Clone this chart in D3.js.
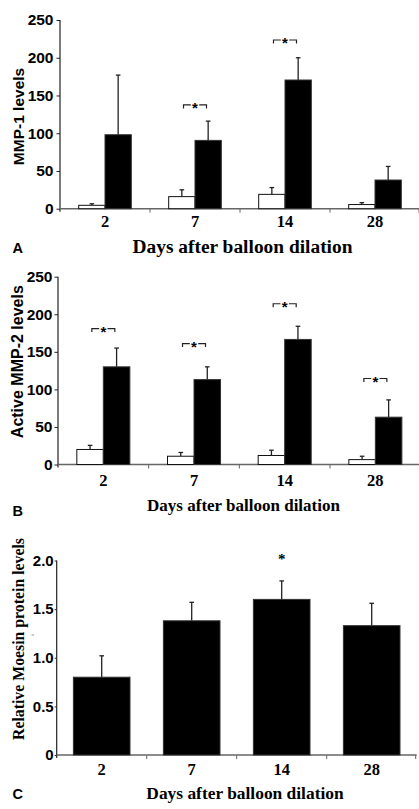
<!DOCTYPE html>
<html>
<head>
<meta charset="utf-8">
<script src="https://cdn.jsdelivr.net/npm/d3@7"></script>
<style>
  html, body { margin: 0; padding: 0; background: #fff; }
  svg { display: block; }
</style>
</head>
<body>
<svg id="fig" width="419" height="809"></svg>
<script>
// Days after balloon dilation (x categories)
const days = ["2", "7", "14", "28"];

// Panel A: MMP-1 levels (control = open bars, dilated = filled bars)
const mmp1Control    = [4.5, 16, 19, 5.5];
const mmp1ControlSD  = [2, 9, 9, 2.5];
const mmp1Dilated    = [98, 90.5, 170.5, 38];
const mmp1DilatedSD  = [79, 25.5, 29.5, 18];
const mmp1Signif     = [null, 137.5, 223.5, null];

// Panel B: active MMP-2 levels
const mmp2Control    = [20, 11, 12, 6.5];
const mmp2ControlSD  = [5.5, 5, 7, 4.5];
const mmp2Dilated    = [130, 113, 166.5, 63];
const mmp2DilatedSD  = [25, 17, 17.5, 23];
const mmp2Signif     = [181, 161, 214, 114.5];

// Panel C: relative moesin protein levels
const moesin         = [0.80, 1.38, 1.60, 1.33];
const moesinSD       = [0.22, 0.19, 0.19, 0.23];
const moesinSignif   = [null, null, 2.03, null];

// Tick labels
const countTicks      = [0, 50, 100, 150, 200, 250];
const countTickLabels = ["0", "50", "100", "150", "200", "250"];
const ratioTicks      = [0, 0.5, 1.0, 1.5, 2.0];
const ratioTickLabels = ["0", "0.5", "1.0", "1.5", "2.0"];

const SANS = "'Liberation Sans', Arial, Helvetica, sans-serif";
const SERIF = "'Liberation Serif', 'Times New Roman', Times, serif";

const svg = d3.select("#fig");

function drawPanel(o) {
  const g = svg.append("g");
  const x = d3.scaleBand().domain(days).range(o.xRange).paddingInner(0).paddingOuter(0);
  const y = d3.scaleLinear().domain(o.yDomain).range(o.yRange);
  const x0 = o.xRange[0], x1 = o.xRange[1], y0 = y(0);

  // y axis ticks and labels
  const yAxis = d3.axisLeft(y)
    .tickValues(o.yTicks)
    .tickSize(o.tickLen)
    .tickPadding(o.tickPad)
    .tickFormat((d, i) => o.yLabels[i]);
  const ga = g.append("g").attr("transform", `translate(${x0},0)`).call(yAxis);
  ga.select(".domain").remove();
  ga.selectAll("line").attr("stroke", "#222").attr("stroke-width", 1);
  ga.selectAll("text")
    .attr("font-family", SANS).attr("font-weight", "bold")
    .attr("font-size", o.yFontSize).attr("fill", "#000");

  // y axis line, running slightly below the baseline
  g.append("line")
    .attr("x1", x0).attr("x2", x0)
    .attr("y1", y(o.yDomain[1])).attr("y2", y0 + 3)
    .attr("stroke", "#222").attr("stroke-width", 1.2);

  // x axis baseline and band-boundary ticks
  g.append("line")
    .attr("x1", x0).attr("x2", x1).attr("y1", y0).attr("y2", y0)
    .attr("stroke", "#666").attr("stroke-width", 1.4);
  const bounds = days.slice(1).map(d => x(d)).concat([x1 - 1]);
  g.selectAll(".xt").data(bounds).enter().append("line")
    .attr("x1", d => d).attr("x2", d => d)
    .attr("y1", y0).attr("y2", y0 + 4)
    .attr("stroke", "#666").attr("stroke-width", 1);

  // x tick labels
  g.selectAll(".xl").data(days).enter().append("text")
    .attr("x", d => x(d) + x.bandwidth() / 2)
    .attr("y", y0 + o.xLabelOffset)
    .attr("text-anchor", "middle")
    .attr("font-family", SERIF).attr("font-weight", "bold")
    .attr("font-size", 16.5).attr("fill", "#000")
    .text(d => d);

  // bars
  const sub = d3.scaleBand().domain(o.series.map((s, i) => i))
    .range([0, x.bandwidth()])
    .paddingInner(o.barPadInner).paddingOuter(o.barPadOuter);

  o.series.forEach((s, si) => {
    const data = days.map((d, i) => ({ day: d, v: s.values[i], sd: s.sd[i] }));
    const bx = d => x(d.day) + sub(si);
    const cx = d => bx(d) + sub.bandwidth() / 2;

    // error bars (upper half only)
    g.selectAll(null).data(data).enter().append("line")
      .attr("x1", cx).attr("x2", cx)
      .attr("y1", d => y(d.v)).attr("y2", d => y(d.v + d.sd))
      .attr("stroke", "#222").attr("stroke-width", 1.3);
    g.selectAll(null).data(data).enter().append("line")
      .attr("x1", d => cx(d) - 2.3).attr("x2", d => cx(d) + 2.3)
      .attr("y1", d => y(d.v + d.sd)).attr("y2", d => y(d.v + d.sd))
      .attr("stroke", "#222").attr("stroke-width", 1.3);

    g.selectAll(null).data(data).enter().append("rect")
      .attr("x", bx)
      .attr("y", d => y(d.v))
      .attr("width", sub.bandwidth())
      .attr("height", d => y0 - y(d.v))
      .attr("fill", s.fill)
      .attr("stroke", s.fill === "#fff" ? "#111" : "#333")
      .attr("stroke-width", 1);
  });

  // significance brackets between paired bars
  if (o.brackets) {
    const bd = days.map((d, i) => ({ day: d, v: o.brackets[i] })).filter(d => d.v != null);
    bd.forEach(d => {
      const c = x(d.day) + x.bandwidth() / 2;
      const yy = y(d.v);
      const half = 11.5, gap = 4.2;
      const path = `M${c - half},${yy + 3.5}V${yy}H${c - gap}M${c + gap},${yy}H${c + half}V${yy + 3.5}`;
      g.append("path").attr("d", path).attr("fill", "none")
        .attr("stroke", "#222").attr("stroke-width", 1.2);
      g.append("text")
        .attr("x", c).attr("y", yy + 8.2)
        .attr("text-anchor", "middle")
        .attr("font-family", SANS).attr("font-weight", "bold")
        .attr("font-size", 15).attr("fill", "#000")
        .text("*");
    });
  }

  // single-bar significance stars
  if (o.stars) {
    days.forEach((d, i) => {
      if (o.stars[i] == null) return;
      g.append("text")
        .attr("x", x(d) + x.bandwidth() / 2)
        .attr("y", y(o.stars[i]) + 6.5)
        .attr("text-anchor", "middle")
        .attr("font-family", SERIF).attr("font-weight", "bold")
        .attr("font-size", 15).attr("fill", "#000")
        .text("*");
    });
  }

  // y axis title
  g.append("text")
    .attr("transform", `translate(${o.yTitlePos[0]},${o.yTitlePos[1]}) rotate(-90)`)
    .attr("text-anchor", "middle")
    .attr("font-family", o.yTitleFont).attr("font-weight", "bold")
    .attr("font-size", o.yTitleSize).attr("fill", "#000")
    .text(o.yTitle);

  // x axis title
  g.append("text")
    .attr("x", o.xTitlePos[0]).attr("y", o.xTitlePos[1])
    .attr("text-anchor", "middle")
    .attr("font-family", SERIF).attr("font-weight", "bold")
    .attr("font-size", o.xTitleSize).attr("fill", "#000")
    .text("Days after balloon dilation");

  // panel letter
  g.append("text")
    .attr("x", 12.5).attr("y", o.letterY)
    .attr("font-family", SANS).attr("font-weight", "bold")
    .attr("font-size", 14.5).attr("fill", "#000")
    .text(o.letter);

  return g;
}

drawPanel({
  xRange: [60, 420], yDomain: [0, 250], yRange: [208.7, 20],
  yTicks: countTicks, yLabels: countTickLabels, tickLen: 3.5, tickPad: 3, yFontSize: 15.5,
  xLabelOffset: 18,
  series: [
    { values: mmp1Control, sd: mmp1ControlSD, fill: "#fff" },
    { values: mmp1Dilated, sd: mmp1DilatedSD, fill: "#000" }
  ],
  barPadInner: 0, barPadOuter: 0.71,
  brackets: mmp1Signif,
  yTitle: "MMP-1 levels", yTitleFont: SANS, yTitleSize: 15.5, yTitlePos: [23.5, 116.5],
  xTitlePos: [242.5, 253], xTitleSize: 19.4,
  letter: "A", letterY: 252.5
});

drawPanel({
  xRange: [58, 420.7], yDomain: [0, 250], yRange: [464.5, 276.7],
  yTicks: countTicks, yLabels: countTickLabels, tickLen: 3.5, tickPad: 2, yFontSize: 15.5,
  xLabelOffset: 21,
  series: [
    { values: mmp2Control, sd: mmp2ControlSD, fill: "#fff" },
    { values: mmp2Dilated, sd: mmp2DilatedSD, fill: "#000" }
  ],
  barPadInner: 0, barPadOuter: 0.71,
  brackets: mmp2Signif,
  yTitle: "Active MMP-2 levels", yTitleFont: SANS, yTitleSize: 16, yTitlePos: [23, 361.7],
  xTitlePos: [243.5, 510.5], xTitleSize: 17,
  letter: "B", letterY: 515.5
});

const gC = drawPanel({
  xRange: [56.7, 416.7], yDomain: [0, 2], yRange: [755, 560.5],
  yTicks: ratioTicks, yLabels: ratioTickLabels, tickLen: 2, tickPad: 1, yFontSize: 15,
  xLabelOffset: 19.5,
  series: [
    { values: moesin, sd: moesinSD, fill: "#000" }
  ],
  barPadInner: 0, barPadOuter: 0.295,
  stars: moesinSignif,
  yTitle: "Relative Moesin protein levels", yTitleFont: SERIF, yTitleSize: 15.8, yTitlePos: [24, 639],
  xTitlePos: [245, 798.5], xTitleSize: 17.4,
  letter: "C", letterY: 798.5
});

// faint stray dash beside the moesin axis title
gC.append("line")
  .attr("x1", 31.5).attr("x2", 34).attr("y1", 635).attr("y2", 635)
  .attr("stroke", "#999").attr("stroke-width", 1);
</script>
</body>
</html>
